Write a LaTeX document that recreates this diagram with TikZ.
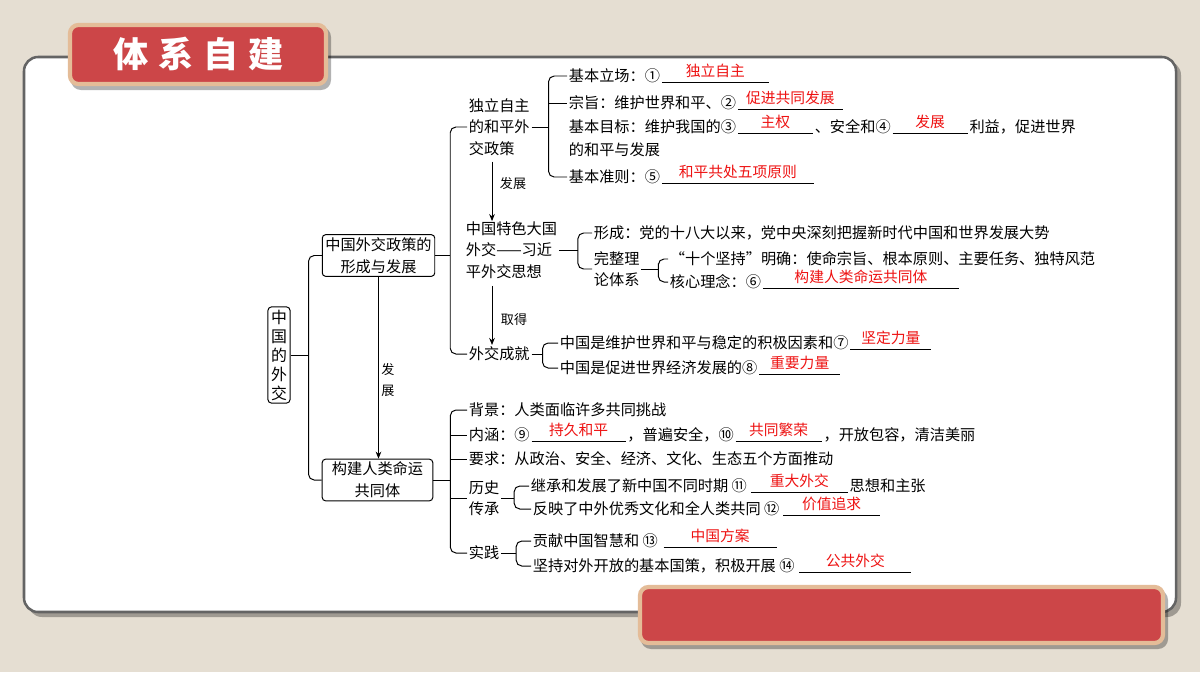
\documentclass[tikz,border=0pt]{standalone}
\usepackage{fontspec}
\setmainfont{Noto Sans CJK SC}
\usepackage{xcolor}
\usetikzlibrary{arrows.meta}
\definecolor{paper}{RGB}{229,222,210}
\definecolor{hdred}{RGB}{204,70,72}
\definecolor{hdtan}{RGB}{228,188,152}
\definecolor{ansred}{RGB}{238,18,18}
\definecolor{rim}{RGB}{100,100,100}

\begin{document}
\begin{tikzpicture}[x=0.025cm, y=-0.025cm, line width=0.7pt,
  txt/.style={anchor=west, inner xsep=1pt, inner ysep=0pt, font=\fontsize{10.8}{15.2}\selectfont},
  para/.style={txt, align=left},
  box/.style={draw, rounded corners=2.5pt, inner xsep=2.2pt, inner ysep=2pt, align=center, font=\fontsize{10.8}{15.6}\selectfont},
  ans/.style={inner sep=0pt, yshift=7.8pt, text=ansred, font=\fontsize{10.5}{12}\selectfont},
  blank/.style={line width=0.6pt},
  lbl/.style={inner sep=0pt, align=center, font=\fontsize{9.3}{14.9}\selectfont},
  brace/.style={rounded corners=4pt},
  >={Stealth[length=5pt,width=4pt]}]
  \useasboundingbox (0,0) rectangle (1200,672);
  \fill[paper] (0,0) rectangle (1200,672);
  \fill[black, opacity=.3, rounded corners=10pt] (28,61) rectangle (1181,617);
  \draw[rim, line width=1.8pt, fill=white, rounded corners=10pt] (24,57) rectangle (1176,612);
  \fill[black, opacity=.3, rounded corners=7pt] (71,27) rectangle (331,90);
  \draw[hdtan, line width=3pt, fill=hdred, rounded corners=6pt] (70,25) rectangle (326,84);
  \node (title) at (199,54) [text=white, font=\fontsize{25}{25}\selectfont\bfseries]
    {体\hspace{7pt}系\hspace{7pt}自\hspace{7pt}建};
  \fill[black, opacity=.3, rounded corners=7pt] (641,590) rectangle (1168,649);
  \draw[hdtan, line width=3pt, fill=hdred, rounded corners=6pt] (640,587) rectangle (1163,643);

  \node (wj) [box, font=\fontsize{11.3}{13.5}\selectfont] at (279,355) {中\\国\\的\\外\\交};
  \node (zc) [box] at (378.5,255.5) {中国外交政策的\\形成与发展};
  \node (gj) [box, minimum width=78.7pt] at (377.5,480) {构建人类命运\\共同体};
  \path (node cs:name=wj,anchor=east) +(18,0) coordinate (j1);
  \draw (wj.east) -- (j1);
  \draw[brace] (zc.west) -| (j1) |- (gj.west);
  \draw[->] (zc.south) -- (zc.south |- gj.north);
  \node (fz) [lbl] at (388,380) {发\\展};

  \node (dl) [para] at (467,127) {独立自主\\的和平外\\交政策};
  \node (ts) [para] at (464,250) {中国特色大国\\外交——习近\\平外交思想};
  \node (cj) [txt] at (467,354) {外交成就};
  \path (node cs:name=zc,anchor=east) +(15,0) coordinate (j2);
  \draw (zc.east) -- (j2);
  \draw[brace] (dl.west) -| (j2) |- (cj.west);
  \coordinate (a1) at (492,0);
  \draw[->, shorten <=4pt] (dl.south -| a1) -- (ts.north -| a1);
  \node (fz2) [lbl] at (513,184) {发展};
  \draw[->, shorten <=5pt, shorten >=1pt] (ts.south -| a1) -- (cj.north -| a1);
  \node (qd) [lbl] at (514,320) {取得};

  \node (d1) [txt] at (567,76) {基本立场：①};
  \node (d2) [txt] at (567,103) {宗旨：维护世界和平、②};
  \node (d3) [txt] at (567,127) {基本目标：维护我国的③};
  \node (d3d) [txt] at (567,150) {的和平与发展};
  \node (d4) [txt] at (567,177) {基本准则：⑤};
  \path (node cs:name=dl,anchor=east) +(17,0) coordinate (j3);
  \draw (dl.east) -- (j3);
  \draw[brace] (d1.west) -| (j3) |- (d4.west);
  \draw (j3 |- d2) -- (d2.west);
  \draw[blank] (d1.east) ++(0,6) -- node[ans] {独立自主} ++(107,0);
  \draw[blank] (d2.east) ++(0,6) -- node[ans] {促进共同发展} ++(105,0);
  \draw[blank] (d3.east) ++(0,6) -- node[ans] {主权} ++(75,0) coordinate (v3);
  \node (d3b) [txt] at (v3 |- d3) {、安全和④};
  \draw[blank] (d3b.east) ++(0,6) -- node[ans] {发展} ++(75,0) coordinate (v4);
  \node (d3c) [txt] at (v4 |- d3) {利益，促进世界};
  \draw[blank] (d4.east) ++(0,6) -- node[ans] {和平共处五项原则} ++(152,0);

  \node (t1) [txt] at (592,233) {形成：党的十八大以来，党中央深刻把握新时代中国和世界发展大势};
  \node (t2) [para] at (592,269) {完整理\\论体系};
  \path (node cs:name=ts,anchor=east) +(19,0) coordinate (j4);
  \draw (ts.east) -- (j4);
  \draw[brace] (t1.west) -| (j4) |- (t2.west);
  \node (t3) [txt] at (668,259) {“十个坚持”明确：使命宗旨、根本原则、主要任务、独特风范};
  \node (t4) [txt] at (668,282) {核心理念：⑥};
  \path (node cs:name=t2,anchor=east) +(17,0) coordinate (j5);
  \draw (t2.east) -- (j5);
  \draw[brace] (t3.west) -| (j5) |- (t4.west);
  \draw[blank] (t4.east) ++(0,6) -- node[ans] {构建人类命运共同体} ++(196,0);

  \node (c1) [txt] at (558,343) {中国是维护世界和平与稳定的积极因素和⑦};
  \node (c2) [txt] at (558,368) {中国是促进世界经济发展的⑧};
  \path (node cs:name=cj,anchor=east) +(11,0) coordinate (j6);
  \draw (cj.east) -- (j6);
  \draw[brace] (c1.west) -| (j6) |- (c2.west);
  \draw[blank] (c1.east) ++(0,6) -- node[ans] {坚定力量} ++(81,0);
  \draw[blank] (c2.east) ++(0,6) -- node[ans] {重要力量} ++(81,0);

  \node (g1) [txt] at (467,410) {背景：人类面临许多共同挑战};
  \node (g2) [txt] at (467,435) {内涵：⑨};
  \node (g3) [txt] at (467,459) {要求：从政治、安全、经济、文化、生态五个方面推动};
  \node (g4) [para] at (467,498) {历史\\传承};
  \node (g5) [txt] at (467,553) {实践};
  \path (node cs:name=gj,anchor=east) +(17,0) coordinate (j7);
  \draw (gj.east) -- (j7);
  \draw[brace] (g1.west) -| (j7) |- (g5.west);
  \foreach \g in {g2,g3,g4}
    \draw (j7 |- \g) -- (\g.west);
  \draw[blank] (g2.east) ++(0,6) -- node[ans] {持久和平} ++(94,0) coordinate (v9);
  \node (g2b) [txt] at (v9 |- g2) {，普遍安全，⑩};
  \draw[blank] (g2b.east) ++(0,6) -- node[ans] {共同繁荣} ++(86,0) coordinate (v10);
  \node (g2c) [txt] at (v10 |- g2) {，开放包容，清洁美丽};

  \node (h1) [txt] at (529,486) {继承和发展了新中国不同时期 ⑪};
  \node (h2) [txt] at (531,509) {反映了中外优秀文化和全人类共同 ⑫};
  \path (node cs:name=g4,anchor=east) +(13,0) coordinate (j8);
  \draw (g4.east) -- (j8);
  \draw[brace] (h1.west) -| (j8) |- (h2.west);
  \draw[blank] (h1.east) ++(2,6) -- node[ans] {重大外交} ++(97,0) coordinate (v11);
  \node (h1b) [txt] at (v11 |- h1) {思想和主张};
  \draw[blank] (h2.east) ++(2,6) -- node[ans] {价值追求} ++(97,0);

  \node (s1) [txt] at (531,541) {贡献中国智慧和 ⑬};
  \node (s2) [txt] at (531,566) {坚持对外开放的基本国策，积极开展 ⑭};
  \path (node cs:name=g5,anchor=east) +(15,0) coordinate (j9);
  \draw (g5.east) -- (j9);
  \draw[brace] (s1.west) -| (j9) |- (s2.west);
  \draw[blank] (s1.east) ++(4,6) -- node[ans] {中国方案} ++(113,0);
  \draw[blank] (s2.east) ++(3,6) -- node[ans] {公共外交} ++(112,0);
\end{tikzpicture}
\end{document}
